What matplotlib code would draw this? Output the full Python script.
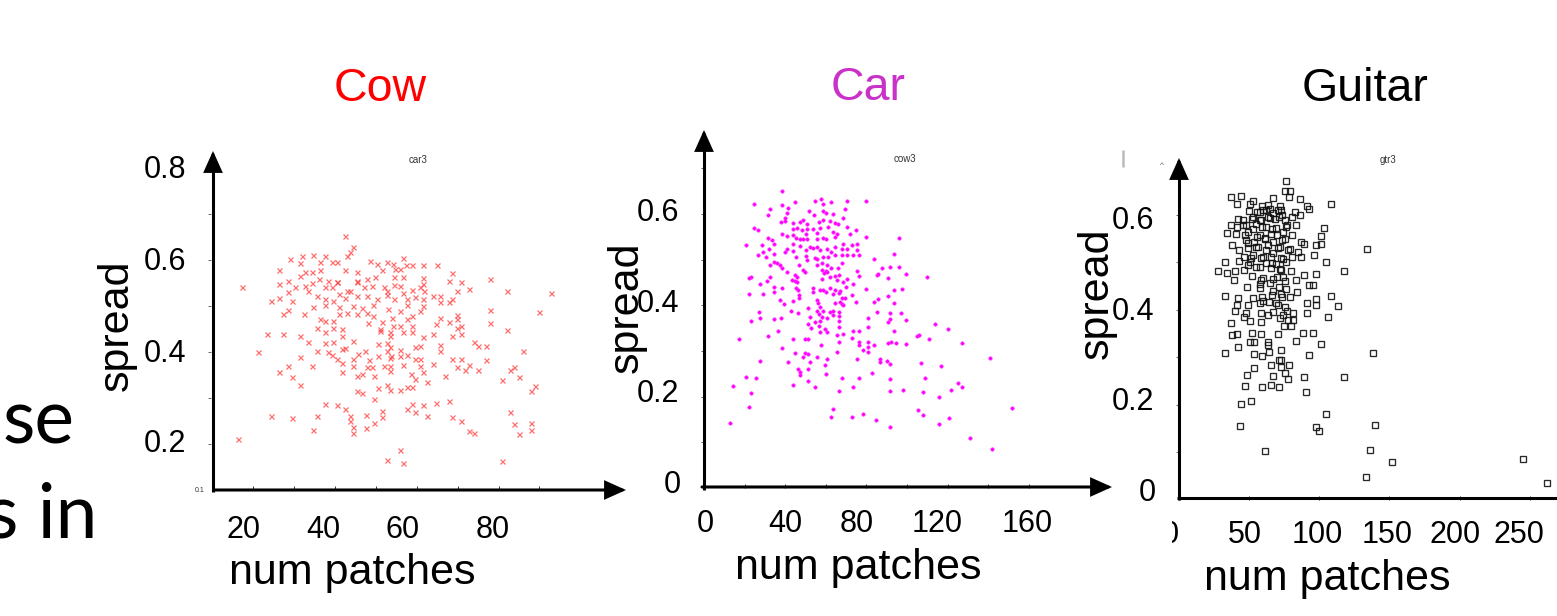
import matplotlib
matplotlib.use("Agg")
import matplotlib.pyplot as plt
from matplotlib.patches import FancyArrowPatch, Rectangle
from matplotlib.lines import Line2D

plt.rcParams['font.family'] = ['Liberation Sans', 'DejaVu Sans']

# ---------------- data ----------------
titles = ["Cow", "Car", "Guitar"]
inner_titles = ["car3", "cow3", "gtr3"]
x_label = "num patches"
y_label = "spread"
side_text = ["se", "s in"]

cow_xtick_labels = ["20", "40", "60", "80"]
cow_ytick_labels = ["0.8", "0.6", "0.4", "0.2"]
car_xtick_labels = ["0", "40", "80", "120", "160"]
car_ytick_labels = ["0.6", "0.4", "0.2", "0"]
gtr_xtick_labels = ["0", "50", "100", "150", "200", "250"]
gtr_ytick_labels = ["0.6", "0.4", "0.2", "0"]

cow_ticks_x = [20, 30, 40, 50, 60, 70, 80, 90]
cow_ticks_y = [0.2, 0.3, 0.4, 0.5, 0.6, 0.7, 0.8]
car_ticks_x = [0, 20, 40, 60, 80, 100, 120, 140, 160]
car_ticks_y = [0.1, 0.2, 0.3, 0.4, 0.5, 0.6, 0.7]
gtr_ticks_x = [0, 50, 100, 150, 200, 250]
gtr_ticks_y = [0.1, 0.2, 0.3, 0.4, 0.5, 0.6]

# (num patches, spread)
cow_points = [
    (42.5, .651), (44.5, .627), (43.7, .617), (42.9, .609), (31.9, .608), (34.6, .611), (37.6, .608), (29.0, .602),
    (31.5, .593), (36.4, .595), (39.2, .595), (40.5, .596), (48.6, .598), (50.2, .591), (52.7, .596), (54.3, .591),
    (26.4, .578), (32.7, .574), (34.3, .573), (36.4, .579), (42.5, .577), (45.3, .573), (51.5, .577),
    (31.5, .564), (36.0, .559), (38.4, .555), (40.5, .551), (45.3, .555), (47.8, .559), (49.8, .562), (28.6, .555),
    (26.4, .547), (30.3, .540), (32.7, .544), (34.3, .550), (37.6, .540), (39.2, .540), (40.6, .553), (42.9, .533),
    (45.3, .551), (47.0, .540), (49.0, .544), (51.9, .540), (52.7, .533), (17.4, .540),
    (28.6, .530), (33.5, .533), (35.6, .522), (37.6, .515), (39.6, .511), (40.9, .526), (42.5, .517), (43.7, .533),
    (45.5, .522), (47.8, .522), (50.2, .515), (52.7, .524), (29.5, .511), (24.4, .510), (26.4, .518),
    (37.6, .502), (40.9, .497), (44.5, .499), (46.6, .495), (49.4, .501), (53.1, .493), (34.6, .497), (28.6, .492),
    (27.4, .482), (32.5, .482), (40.9, .482), (42.9, .485), (45.3, .482), (47.8, .485), (49.4, .479),
    (36.4, .472), (37.6, .468), (39.6, .468), (48.2, .463), (51.5, .464), (54.3, .457), (35.6, .453), (39.6, .451),
    (41.7, .450), (51.0, .450), (53.5, .443),
    (23.5, .440), (27.4, .440), (31.5, .435), (37.6, .443), (41.7, .435), (51.0, .446),
    (33.5, .421), (37.6, .419), (39.6, .422), (44.5, .423), (50.6, .417), (52.7, .419), (53.5, .410), (41.7, .406),
    (42.5, .408), (35.6, .401), (38.4, .399), (39.2, .393), (45.7, .396), (47.4, .401), (50.6, .392), (52.7, .401),
    (21.3, .399), (31.5, .390), (40.5, .385), (41.7, .376), (44.5, .385), (48.4, .383), (53.5, .386), (53.5, .370),
    (47.8, .367), (49.0, .367), (51.9, .369), (28.6, .369), (34.3, .370), (44.5, .370),
    (26.4, .357), (41.7, .356), (53.5, .359), (29.5, .345), (45.3, .348), (46.6, .352), (49.6, .348),
    (31.5, .329), (52.7, .329), (50.6, .321), (45.3, .316), (46.6, .311), (53.5, .318), (49.6, .298),
    (37.6, .287), (40.6, .285), (42.5, .277), (51.6, .272), (24.4, .260), (29.5, .256), (35.6, .261), (43.7, .260),
    (47.5, .264), (51.6, .258), (43.7, .251), (49.6, .246),
    (34.6, .231), (44.5, .236), (47.5, .234), (44.5, .223), (16.4, .211), (52.7, .166),
    (56.6, .603), (57.4, .589), (58.8, .589), (61.6, .589), (64.9, .588), (54.7, .580), (55.8, .580), (68.6, .571),
    (54.5, .562), (56.6, .562), (61.6, .560), (67.8, .555), (70.8, .553), (77.8, .559),
    (54.5, .546), (55.8, .544), (61.6, .548), (60.8, .540), (58.8, .535), (69.8, .533), (72.9, .537), (82.0, .533),
    (92.9, .528), (56.6, .528), (61.8, .533),
    (54.5, .515), (57.6, .515), (59.6, .519), (61.6, .515), (63.9, .522), (65.7, .521), (68.6, .515), (57.6, .502),
    (61.6, .499), (65.7, .508), (67.8, .508),
    (60.8, .490), (55.8, .488), (77.8, .492), (89.8, .486), (53.9, .474), (57.6, .472), (58.8, .477), (65.7, .473),
    (69.8, .480), (64.7, .461), (67.8, .464), (77.8, .462), (69.8, .472),
    (55.8, .456), (58.8, .457), (69.8, .453), (70.8, .456), (56.6, .444), (58.8, .444), (63.9, .440), (68.7, .435),
    (70.8, .439), (82.0, .448), (61.6, .432), (53.5, .434),
    (73.9, .421), (74.9, .412), (76.9, .412), (59.6, .411), (60.8, .412), (65.7, .414), (65.7, .403), (55.8, .405),
    (55.8, .392), (57.6, .393), (53.7, .392), (85.9, .403),
    (59.6, .385), (60.8, .385), (68.7, .385), (70.8, .385), (76.9, .382), (56.6, .372), (60.8, .370), (63.9, .374),
    (69.8, .368), (72.9, .372), (71.8, .361), (74.9, .361), (61.6, .356), (83.8, .368), (82.8, .361),
    (58.6, .352), (59.6, .341), (62.6, .334), (66.8, .347), (80.8, .338), (84.9, .345), (88.9, .325), (88.0, .316),
    (55.8, .318), (57.6, .323), (58.8, .323),
    (58.8, .287), (57.6, .275), (59.6, .270), (61.6, .285), (64.7, .289), (67.8, .294), (62.6, .261), (68.7, .258),
    (70.8, .249), (82.8, .270), (83.8, .243), (88.0, .245), (88.0, .231), (84.9, .222), (72.9, .229), (73.9, .223),
    (55.8, .187), (56.6, .159), (80.8, .164),
]

car_points = [
    (38.6, .650), (24.6, .621), (38.4, .619), (44.7, .625), (54.8, .629), (57.6, .632), (58.5, .622), (62.7, .625),
    (70.4, .629), (79.8, .629),
    (32.5, .610), (41.4, .612), (31.7, .597), (40.7, .603), (51.6, .606), (54.4, .597), (58.5, .606), (60.1, .601),
    (63.7, .599), (69.5, .610), (68.6, .592),
    (39.9, .590), (37.8, .583), (40.1, .584), (43.7, .579), (47.3, .583), (48.6, .586), (50.9, .577), (56.8, .583),
    (58.8, .586), (62.1, .584), (64.5, .579), (66.2, .577),
    (24.6, .570), (26.8, .565), (43.7, .568), (45.6, .570), (48.1, .565), (50.6, .568), (53.9, .568), (57.1, .570),
    (61.2, .572), (63.7, .561), (65.7, .555), (70.3, .572), (71.9, .557), (74.9, .565),
    (38.3, .557), (40.7, .552), (43.7, .554), (45.3, .548), (50.2, .555), (55.5, .559), (58.8, .548), (64.5, .550),
    (79.8, .550),
    (31.7, .548), (47.3, .545), (48.6, .545), (50.6, .545), (55.8, .545), (60.1, .545), (33.3, .543), (34.5, .535),
    (20.5, .533), (28.4, .532), (43.7, .535), (47.3, .530), (52.2, .528), (53.9, .526), (55.5, .528), (60.4, .524),
    (64.5, .528), (68.6, .535), (72.7, .532), (75.5, .535),
    (32.2, .524), (40.7, .523), (43.7, .519), (50.2, .521), (57.1, .521), (62.4, .517), (67.8, .524), (70.3, .523),
    (75.5, .521),
    (26.4, .511), (28.9, .516), (34.5, .513), (39.9, .517), (45.3, .506), (50.2, .508), (54.7, .504), (58.8, .506),
    (61.2, .506), (64.5, .510), (67.8, .511), (70.3, .511), (73.6, .510), (76.5, .511), (30.5, .506), (50.9, .499),
    (55.5, .501),
    (34.5, .495), (36.1, .492), (37.4, .488), (32.5, .488), (38.3, .482), (47.0, .488), (55.5, .488), (58.0, .492),
    (60.7, .489), (67.8, .492),
    (48.6, .477), (58.0, .477), (60.1, .475), (62.6, .481), (66.2, .481), (40.7, .472), (49.8, .472), (59.1, .470),
    (60.7, .472), (64.5, .465), (66.7, .466), (75.5, .475),
    (23.0, .462), (22.3, .460), (32.5, .462), (44.8, .467), (45.6, .462), (62.1, .462), (76.5, .465), (30.9, .453),
    (43.2, .455), (44.8, .453), (58.0, .457), (65.7, .455), (68.3, .451), (70.3, .457), (45.6, .450),
    (27.6, .446), (34.5, .441), (38.6, .437), (45.3, .437), (53.9, .438), (57.1, .433), (58.8, .433), (62.1, .438),
    (64.5, .433), (67.0, .431), (69.9, .441), (73.6, .446), (79.8, .435),
    (34.5, .430), (46.5, .433), (53.9, .430), (60.1, .428), (66.7, .426), (22.3, .424), (29.2, .424), (47.0, .422),
    (63.7, .424), (72.7, .422), (47.0, .415), (67.8, .415), (69.5, .415),
    (37.4, .411), (43.7, .410), (55.5, .411), (56.3, .406), (67.0, .408), (74.9, .408), (39.4, .402), (64.5, .404),
    (67.8, .403), (57.1, .397), (68.6, .400), (51.4, .393),
    (27.3, .386), (42.7, .387), (46.5, .382), (55.5, .387), (58.8, .387), (62.1, .386), (63.7, .387), (66.7, .386),
    (56.8, .380), (58.0, .375), (52.2, .375),
    (27.6, .373), (34.5, .371), (37.8, .373), (60.7, .373), (63.7, .379), (66.7, .377), (81.0, .373), (23.2, .365),
    (54.7, .364), (57.1, .365), (66.7, .365),
    (51.4, .358), (52.5, .351), (56.8, .355), (59.6, .348), (60.4, .342), (57.1, .341), (66.7, .353), (36.6, .344),
    (73.6, .344), (76.5, .344), (81.0, .353),
    (17.4, .327), (31.7, .333), (43.7, .327), (49.8, .327), (51.4, .326), (65.7, .335), (68.6, .337), (72.7, .329),
    (66.7, .320), (57.5, .314), (76.5, .320), (76.5, .313), (81.0, .319), (81.0, .309),
    (38.6, .306), (78.2, .301), (81.0, .298), (44.8, .295), (49.8, .295), (51.4, .293), (65.7, .298), (48.6, .286),
    (55.5, .287), (60.7, .282), (75.5, .282), (27.6, .279), (41.5, .275), (52.2, .275), (59.6, .269),
    (51.4, .260), (46.5, .260), (47.3, .255), (47.3, .247), (60.1, .249), (20.5, .244), (25.6, .241), (67.8, .241),
    (76.5, .240), (51.4, .234),
    (14.4, .223), (43.7, .225), (54.7, .220), (66.7, .213), (73.6, .220), (23.2, .209), (22.3, .178), (63.4, .173),
    (62.4, .156), (72.7, .156), (78.2, .161), (12.8, .143),
    (96.0, .548), (93.8, .513), (83.9, .501), (87.5, .481), (91.6, .484), (96.0, .483), (85.0, .466), (85.9, .469),
    (90.8, .460), (99.5, .468), (109.8, .462),
    (93.8, .433), (97.7, .435), (90.8, .421), (83.9, .408), (85.9, .413), (93.8, .405), (85.0, .386), (91.6, .382),
    (96.9, .382), (91.6, .371), (90.8, .363), (99.5, .368),
    (113.8, .359), (120.0, .349), (93.8, .343), (104.8, .333), (105.9, .335), (110.8, .326), (83.9, .314),
    (90.8, .317), (92.1, .320), (94.6, .318), (99.5, .316), (126.9, .318),
    (140.9, .285), (86.7, .282), (86.7, .275), (90.0, .279), (91.6, .271), (106.9, .273), (116.7, .267),
    (82.6, .252), (91.6, .239), (108.9, .240), (125.3, .229), (126.9, .220), (91.6, .213), (97.9, .215),
    (108.0, .211), (121.7, .215), (115.8, .199),
    (151.9, .176), (105.6, .170), (108.0, .160), (120.8, .154), (115.8, .141), (84.7, .149), (91.6, .133),
    (131.2, .110), (141.7, .085),
]

guitar_points = [
    (76.0, .672), (75.3, .651), (79.4, .651), (78.4, .639), (86.3, .633), (37.3, .637), (44.4, .641), (41.6, .623),
    (52.8, .630), (50.9, .623), (67.0, .635), (59.4, .619), (63.4, .621), (71.7, .618), (91.5, .618), (92.7, .613),
    (108.1, .623),
    (49.9, .608), (57.5, .607), (62.3, .611), (67.0, .605), (72.9, .611), (82.4, .607), (86.1, .600),
    (42.0, .591), (45.6, .589), (52.8, .595), (58.7, .589), (64.6, .593), (71.3, .595), (75.3, .589), (80.8, .595),
    (37.3, .579), (41.6, .575), (48.0, .579), (55.1, .581), (62.3, .575), (69.4, .572), (76.5, .575), (83.7, .579),
    (103.4, .573),
    (34.5, .563), (40.9, .560), (49.2, .565), (57.5, .558), (65.8, .561), (74.1, .565), (80.6, .558), (101.5, .556),
    (48.0, .547), (53.3, .544), (61.1, .551), (67.0, .544), (73.7, .547), (87.2, .544), (89.1, .539), (97.9, .537),
    (101.5, .539), (134.0, .528),
    (38.0, .537), (42.8, .526), (49.2, .530), (55.1, .532), (62.3, .526), (70.6, .530), (77.7, .526), (84.9, .523),
    (96.5, .516),
    (46.0, .512), (51.0, .509), (58.2, .510), (65.8, .512), (72.5, .509), (80.6, .511), (86.7, .511),
    (33.0, .502), (42.8, .504), (50.4, .502), (62.3, .498), (69.4, .497), (76.0, .500), (105.0, .502),
    (27.8, .483), (34.5, .477), (40.2, .482), (46.0, .485), (55.1, .491), (65.8, .488), (72.9, .484), (80.0, .482),
    (89.1, .474), (97.4, .475), (117.4, .481),
    (39.2, .464), (52.3, .471), (58.2, .463), (67.0, .466), (74.5, .470), (83.7, .463), (92.7, .452), (95.5, .452),
    (48.7, .448), (57.5, .455), (64.6, .456), (71.3, .449), (76.5, .445), (84.2, .438),
    (33.0, .429), (42.3, .426), (52.8, .424), (59.4, .428), (66.5, .431), (72.9, .433), (78.9, .428), (97.4, .423),
    (108.6, .429),
    (41.6, .410), (49.2, .410), (57.5, .414), (63.9, .417), (69.4, .414), (75.3, .407), (91.2, .414), (97.4, .410),
    (113.4, .408),
    (39.7, .398), (48.0, .394), (58.7, .393), (67.0, .396), (74.1, .389), (81.2, .393), (91.5, .393),
    (46.3, .386), (50.4, .377), (58.7, .375), (71.8, .382), (77.7, .379), (81.2, .379), (106.2, .386),
    (37.3, .372), (41.6, .349), (37.9, .347), (52.3, .352), (58.7, .349), (70.6, .349), (74.6, .366), (80.0, .366),
    (88.4, .352), (95.8, .352),
    (83.7, .335), (50.8, .333), (53.2, .332), (63.4, .333), (63.4, .326), (101.5, .328), (41.9, .322),
    (33.0, .310), (53.2, .308), (59.2, .303), (64.4, .312), (72.9, .315), (92.7, .305), (138.3, .310),
    (72.5, .294), (71.3, .294), (65.8, .284), (72.9, .280), (78.2, .284), (53.2, .277), (75.3, .266), (48.5, .263),
    (67.0, .261), (77.7, .254), (89.1, .258), (117.6, .259),
    (59.4, .238), (65.8, .242), (71.3, .237), (46.8, .240), (90.3, .226), (44.4, .202), (51.3, .208),
    (105.0, .180), (43.7, .155), (97.9, .154), (99.6, .145), (139.5, .157),
    (61.5, .102), (135.9, .105), (151.9, .079), (133.1, .048), (245.2, .085), (262.4, .034),
    (55.4, .606), (60.1, .610), (64.9, .613), (70.8, .610), (51.8, .592), (57.7, .589), (63.7, .596), (68.4, .592),
    (73.2, .599), (45.9, .578), (53.0, .571), (58.9, .575), (66.0, .571), (76.7, .578), (47.0, .557), (55.4, .554),
    (61.3, .550), (69.6, .557), (75.5, .550), (49.4, .540), (56.5, .533), (63.7, .536), (72.0, .533), (79.1, .529),
    (53.0, .515), (60.1, .512), (67.2, .519), (74.4, .508), (49.4, .494), (57.7, .491), (66.0, .498), (72.0, .487),
    (60.1, .467), (69.6, .470), (75.5, .460), (57.7, .446), (67.2, .439), (73.2, .428), (60.1, .418), (70.8, .411),
    (76.7, .397), (63.7, .390),
]

# ---------------- layout (pixels of a 1557x616 canvas) ----------------
W, H = 1557, 616
fig = plt.figure(figsize=(W / 100, H / 100), dpi=100)
fig.patch.set_facecolor('white')


def fx(px):
    return px / W


def fy(py):
    return 1 - py / H


def add_ax(left, right, top, bottom, xlim, ylim, xt, yt):
    ax = fig.add_axes([fx(left), fy(bottom), (right - left) / W, (bottom - top) / H])
    ax.set_xlim(*xlim)
    ax.set_ylim(*ylim)
    for s in ax.spines.values():
        s.set_visible(False)
    ax.patch.set_alpha(0)
    ax.set_xticks(xt)
    ax.set_yticks(yt)
    ax.tick_params(axis='x', direction='in', length=3, width=0.7, color='#333333',
                   labelbottom=False)
    ax.tick_params(axis='y', direction='out', length=2, width=0.7, color='#666666',
                   labelleft=False)
    return ax


def arrow(x0, y0, x1, y1):
    fig.add_artist(FancyArrowPatch((fx(x0), fy(y0)), (fx(x1), fy(y1)), transform=fig.transFigure,
                                   arrowstyle='-|>,head_length=1.0,head_width=0.45', mutation_scale=12,
                                   lw=2.2, color='black', shrinkA=0, shrinkB=0, joinstyle='miter'))


def line(x0, y0, x1, y1, color='black', lw=2.2):
    fig.add_artist(Line2D([fx(x0), fx(x1)], [fy(y0), fy(y1)], transform=fig.transFigure,
                          color=color, lw=lw, solid_capstyle='butt'))


def text(px, py, s, size, **kw):
    fig.text(fx(px), fy(py), s, fontsize=size, **kw)


TICK = 22
LAB = 31
TIT = 33.5

# ---- Panel 1 : Cow ----
ax1 = add_ax(211, 557, 160, 490, (9.7, 94.3), (0.1, 0.817), cow_ticks_x, cow_ticks_y)
cx, cy = zip(*cow_points)
ax1.plot(cx, cy, linestyle='none', marker='x', ms=3.6, mew=0.9, color='#ff3b3b', alpha=0.75)
line(213, 492, 213, 165)
arrow(213, 168, 213, 151)
arrow(215, 490, 626, 490)
for lab, px in zip(cow_xtick_labels, [243, 323, 403, 493]):
    text(px, 538, lab, TICK, ha='center', va='baseline')
for lab, py in zip(cow_ytick_labels, [167, 259, 351, 441]):
    text(165, py + 11, lab, TICK, ha='center', va='baseline')
text(352, 584, x_label, LAB, ha='center', va='baseline')
text(117, 325, y_label, LAB, ha='center', va='center', rotation=90)
text(380, 101, titles[0], TIT, ha='center', va='baseline', color='#ff0000')
text(418, 160, inner_titles[0], 7, ha='center', va='center', color='#333333')
text(200, 491, "0.1", 5, ha='center', va='center', color='#333333')

# ---- Panel 2 : Car ----
ax2 = add_ax(704, 1032, 160, 488, (0, 161.6), (0, 0.718), car_ticks_x, car_ticks_y)
kx, ky = zip(*car_points)
ax2.plot(kx, ky, linestyle='none', marker='o', ms=2.5, mew=0.4, color='#ff00ff', mec='#ff33ff')
line(704, 490, 704, 145)
arrow(704, 148, 704, 130)
arrow(702, 487, 1112, 487)
for lab, px in zip(car_xtick_labels, [705, 785, 857, 937, 1027]):
    text(px, 532, lab, TICK, ha='center', va='baseline')
for lab, px, py in zip(car_ytick_labels, [658, 658, 658, 672], [210, 301, 391, 482]):
    text(px, py + 11, lab, TICK, ha='center', va='baseline')
text(858, 579, x_label, LAB, ha='center', va='baseline')
text(627, 307, y_label, LAB, ha='center', va='center', rotation=90)
text(868, 100, titles[1], TIT, ha='center', va='baseline', color='#c932c9')
text(905, 159, inner_titles[1], 7, ha='center', va='center', color='#333333')

# ---- Panel 3 : Guitar ----
ax3 = add_ax(1179, 1557, 160, 499.6, (0, 269.5), (0, 0.716), gtr_ticks_x, gtr_ticks_y)
gx, gy = zip(*guitar_points)
ax3.plot(gx, gy, linestyle='none', marker='s', ms=4.5, mew=0.95, mfc='none', mec='#111111', alpha=0.9)
line(1179, 500, 1179, 172)
arrow(1179, 175, 1179, 158)
line(1177, 498, 1560, 498)
for lab, px in zip(gtr_xtick_labels, [1170, 1245, 1317, 1387, 1455, 1519]):
    text(px, 543, lab, TICK, ha='center', va='baseline')
fig.add_artist(Rectangle((fx(1148), fy(555)), (1172 - 1148) / W, 40 / H, transform=fig.transFigure,
                         facecolor='white', edgecolor='none', zorder=5))
for lab, px, py in zip(gtr_ytick_labels, [1133, 1133, 1133, 1147], [218, 309, 399, 490]):
    text(px, py + 11, lab, TICK, ha='center', va='baseline')
text(1327, 590, x_label, LAB, ha='center', va='baseline')
text(1097, 293, y_label, LAB, ha='center', va='center', rotation=90)
text(1365, 101, titles[2], TIT, ha='center', va='baseline', color='black')
text(1388, 160, inner_titles[2], 7, ha='center', va='center', color='#333333')
line(1123, 150, 1123, 167, color='#bbbbbb', lw=1.8)
text(1162, 166, "^", 6, ha='center', va='center', color='#555555')

# ---- slide text cut at the left edge ----
fig.text(fx(3), fy(443), side_text[0], fontsize=54, family=['Lato', 'DejaVu Sans'],
         ha='left', va='baseline')
fig.text(fx(97), fy(538), side_text[1], fontsize=54, family=['Lato', 'DejaVu Sans'],
         ha='right', va='baseline')

fig.savefig("out.png", dpi=100, facecolor='white')
